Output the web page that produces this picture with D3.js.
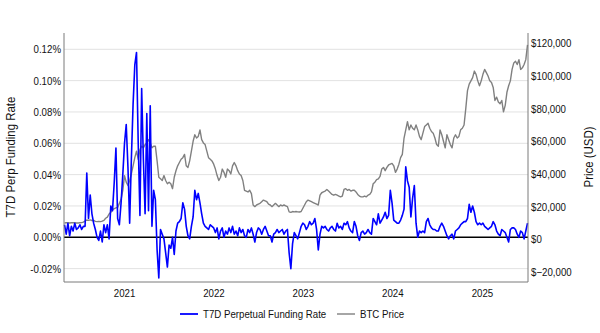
<!DOCTYPE html>
<html><head><meta charset="utf-8">
<script src="https://cdn.jsdelivr.net/npm/d3@7"></script>
<style>html,body{margin:0;padding:0;background:#fff;} svg{display:block;font-family:"Liberation Sans",Arial,sans-serif;}</style>
</head><body><svg id="chart" width="600" height="333"></svg>
<script>
// ---- data ----
const START_DATE = "2020-05-03";           // first weekly observation
const X_DOMAIN = ["2020-05-01", "2025-07-08"];
const yearTicks = ["2021-01-01", "2022-01-01", "2023-01-01", "2024-01-01", "2025-01-01"];
const fundingTicks = [-0.02, 0, 0.02, 0.04, 0.06, 0.08, 0.10, 0.12]; // percent
const priceTicks = [-20000, 0, 20000, 40000, 60000, 80000, 100000, 120000];
const seriesNames = ["T7D Perpetual Funding Rate", "BTC Price"];
const axisTitles = ["T7D Perp Funding Rate", "Price (USD)"];

// T7D perpetual funding rate (%), weekly
const fundingRate = [
  0.008, 0.002, 0.009, 0.001, 0.007, 0.004, 0.009, 0.005, 0.006, 0.008,
  0.005, 0.007, 0.007, 0.041, 0.012, 0.027, 0.015, 0.009, 0.005, 0.000,
  -0.002, 0.004, -0.003, 0.008, 0.003, 0.008, -0.001, 0.020, 0.017, 0.035,
  0.057, 0.012, 0.008, 0.022, 0.040, 0.060, 0.072, 0.045, 0.009, 0.050,
  0.085, 0.110, 0.118, 0.060, 0.014, 0.095, 0.050, 0.015, 0.079, 0.017,
  0.084, 0.007, 0.030, 0.024, -0.008, -0.026, 0.005, 0.002, -0.001, -0.010,
  -0.019, -0.005, -0.007, 0.000, -0.011, 0.004, 0.009, 0.010, 0.012, 0.022,
  0.018, 0.007, 0.001, -0.001, 0.007, 0.013, 0.030, 0.024, 0.028, 0.022,
  0.015, 0.009, 0.007, 0.006, 0.005, 0.008, 0.007, 0.006, 0.003, 0.006,
  -0.001, 0.004, 0.006, 0.000, 0.004, 0.002, 0.006, 0.003, 0.007, 0.002,
  0.004, 0.001, 0.006, 0.003, 0.005, 0.001, 0.000, 0.005, 0.003, 0.006,
  0.002, -0.003, 0.003, 0.006, 0.005, 0.002, 0.005, 0.007, 0.004, 0.001,
  0.001, -0.003, 0.002, 0.003, 0.005, 0.003, 0.004, 0.005, 0.002, 0.004,
  0.005, -0.010, -0.020, -0.004, 0.003, 0.001, -0.001, 0.003, 0.007, 0.009,
  0.008, 0.005, 0.007, 0.010, 0.008, 0.009, 0.012, 0.005, -0.008, 0.002,
  0.007, 0.006, 0.007, 0.005, 0.004, 0.006, 0.007, 0.005, 0.004, 0.009,
  0.006, 0.007, 0.005, 0.009, 0.008, 0.010, 0.006, 0.004, 0.003, 0.010,
  0.007, 0.001, -0.002, 0.003, 0.004, 0.002, 0.003, 0.005, 0.003, 0.002,
  0.012, 0.010, 0.008, 0.015, 0.009, 0.011, 0.013, 0.016, 0.012, 0.014,
  0.030, 0.022, 0.011, 0.010, 0.009, 0.009, 0.011, 0.014, 0.018, 0.045,
  0.036, 0.032, 0.013, 0.025, 0.033, 0.009, 0.000, 0.004, 0.003, 0.004,
  0.003, 0.010, 0.012, 0.008, 0.006, 0.005, 0.005, 0.004, 0.004, 0.007,
  0.009, 0.007, 0.004, 0.001, -0.001, 0.001, 0.002, -0.001, 0.004, 0.005,
  0.006, 0.008, 0.009, 0.010, 0.010, 0.012, 0.021, 0.016, 0.020, 0.016,
  0.010, 0.008, 0.009, 0.008, 0.009, 0.007, 0.006, 0.005, 0.006, 0.007,
  0.010, 0.008, 0.004, 0.002, 0.001, 0.005, 0.004, 0.003, 0.000, -0.003,
  0.005, 0.006, 0.006, 0.005, 0.002, 0.000, 0.004, 0.003, -0.001, 0.004,
  0.009
];

// BTC price (thousand USD), weekly
const btcPriceK = [
  10.0, 10.1, 10.2, 10.0, 10.1, 10.2, 10.1, 10.0, 10.0, 10.1,
  10.2, 10.5, 11.2, 11.8, 11.6, 11.9, 11.5, 11.6, 11.0, 10.8,
  10.9, 10.8, 11.1, 11.6, 12.9, 13.6, 15.5, 16.5, 18.0, 18.8,
  19.2, 19.5, 22.0, 24.5, 30.0, 39.0, 35.0, 33.0, 36.0, 40.0,
  45, 50, 54, 49, 55, 57, 56, 58, 59, 61,
  59, 56, 57, 57, 48, 38, 37, 36, 39, 36,
  34, 35, 34, 31, 38, 42, 45, 47, 49, 50,
  52, 45, 44, 48, 54, 60, 64, 62, 63, 67,
  61, 59, 58, 54, 50, 49, 48, 46, 43, 39,
  36, 38, 43, 41, 38, 43, 42, 40, 45, 47,
  45, 42, 40, 39, 36, 30, 29.5, 29, 30, 28,
  21, 20, 21, 21.5, 22, 23, 24, 23.5, 23, 21.5,
  21, 20, 21, 22, 21, 20, 21, 20.5, 21, 20.5,
  20, 16.8, 16.5, 17, 16.8, 17, 16.8, 16.7, 17, 19,
  21, 23, 24, 23.5, 23, 22.5, 22, 21.5, 21, 27,
  28.5, 29, 29.5, 30.5, 29.5, 28.5, 27.5, 27, 27.5, 27,
  26.5, 26, 26.5, 30.5, 31, 30, 30.5, 29.5, 30, 30,
  29, 27.5, 26.5, 26, 26, 26.5, 26, 27, 27.5, 29,
  34, 35, 36.5, 37, 38.5, 43, 44, 42, 44, 45.5,
  46, 46.5, 45, 41, 43, 46, 50, 52, 62, 67,
  72, 67, 70, 68, 67, 70, 67, 63, 61, 65,
  69, 70, 71, 68, 66, 65, 62, 58, 57, 67,
  64, 60, 56, 64, 61, 58, 56, 62, 64, 62,
  63, 67, 68, 70, 80, 91, 95, 97, 99, 103,
  101, 97, 94, 97, 101, 104, 102, 100, 97, 96,
  93, 85, 87, 84, 83, 85, 78, 82, 90, 94,
  97, 104, 108, 109, 107, 110, 104, 105, 107, 110,
  119
];

// ---- chart ----
const svg = d3.select("#chart");
const L = 64, R = 528, T = 33, B = 282;
const CONDENSE = 0.88;
const parse = d3.timeParse("%Y-%m-%d");
const start = parse(START_DATE);
const dates = fundingRate.map((_, i) => d3.timeDay.offset(start, 7 * i));

const x = d3.scaleTime().domain(X_DOMAIN.map(parse)).range([L, R]);
const yL = d3.scaleLinear().domain([0, 0.12]).range([237.3, 49.3]);
const yR = d3.scaleLinear().domain([0, 120000]).range([239.3, 43.3]);

// grid
svg.append("g").selectAll("line").data(fundingTicks.filter(d => d !== 0)).join("line")
  .attr("x1", L).attr("x2", R).attr("y1", d => yL(d)).attr("y2", d => yL(d))
  .attr("stroke", "#e2e2e2").attr("stroke-width", 1);

// zero line
svg.append("line").attr("x1", L).attr("x2", R).attr("y1", yL(0)).attr("y2", yL(0))
  .attr("stroke", "#000").attr("stroke-width", 1.5);

// series
const btcLine = d3.line().x((d, i) => x(dates[i])).y(d => yR(d * 1000));
svg.append("path").datum(btcPriceK).attr("d", btcLine)
  .attr("fill", "none").attr("stroke", "#808080").attr("stroke-width", 1.4).attr("stroke-linejoin", "round");

const frLine = d3.line().x((d, i) => x(dates[i])).y(d => yL(d));
svg.append("path").datum(fundingRate).attr("d", frLine)
  .attr("fill", "none").attr("stroke", "#0000ff").attr("stroke-width", 1.6).attr("stroke-linejoin", "round");

// frame
const frame = svg.append("g").attr("stroke", "#7a7a7a").attr("stroke-width", 1);
frame.append("line").attr("x1", L).attr("x2", L).attr("y1", T).attr("y2", B);
frame.append("line").attr("x1", R).attr("x2", R).attr("y1", T).attr("y2", B);
frame.append("line").attr("x1", L).attr("x2", R).attr("y1", B).attr("y2", B);

// axes
const tickFont = 11;
const gL = svg.append("g").attr("transform", `translate(${L},0)`)
  .call(d3.axisLeft(yL).tickValues(fundingTicks).tickSize(0).tickPadding(3)
    .tickFormat(d => (d < 0 ? "-" : "") + Math.abs(d).toFixed(2) + "%"));
const gR = svg.append("g").attr("transform", `translate(${R},0)`)
  .call(d3.axisRight(yR).tickValues(priceTicks).tickSize(0).tickPadding(3)
    .tickFormat(d => "$" + d3.format(",")(d)));
const gB = svg.append("g").attr("transform", `translate(0,${B})`)
  .call(d3.axisBottom(x).tickValues(yearTicks.map(parse)).tickSize(0).tickPadding(7)
    .tickFormat(d3.timeFormat("%Y")));
[gL, gR, gB].forEach(g => {
  g.select(".domain").remove();
  g.selectAll("text").attr("font-size", tickFont).attr("fill", "#111")
    .attr("font-family", '"Liberation Sans", Arial, sans-serif');
});

// axis titles
svg.append("text").attr("transform", "translate(10,157) rotate(-90)")
  .attr("text-anchor", "middle").attr("dy", "0.35em").attr("font-size", 13).attr("fill", "#111")
  .text(axisTitles[0]);
svg.append("text").attr("transform", "translate(588,157) rotate(-90)")
  .attr("text-anchor", "middle").attr("dy", "0.35em").attr("font-size", 13).attr("fill", "#111")
  .text(axisTitles[1]);

// legend
const leg = svg.append("g").attr("font-size", 11).attr("fill", "#111");
const legendItems = [
  { name: seriesNames[0], color: "#0000ff", w: 1.8, x0: 180 },
  { name: seriesNames[1], color: "#808080", w: 1.4, x0: 337 }
];
legendItems.forEach(it => {
  leg.append("line").attr("x1", it.x0).attr("x2", it.x0 + 18).attr("y1", 314).attr("y2", 314)
    .attr("stroke", it.color).attr("stroke-width", it.w);
  leg.append("text").attr("x", it.x0 + 23).attr("y", 314).attr("dy", "0.35em").text(it.name);
});

// condense all text horizontally to match the narrow look of the reference
svg.selectAll("text").each(function () {
  const w = this.getComputedTextLength();
  if (w > 0) d3.select(this).attr("textLength", w * CONDENSE).attr("lengthAdjust", "spacingAndGlyphs");
});
</script>
</body></html>
